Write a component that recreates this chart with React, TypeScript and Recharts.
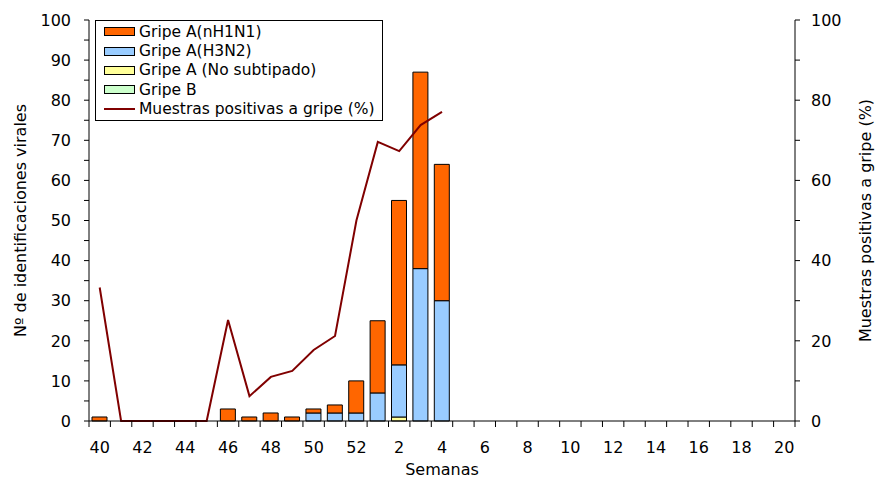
import { Bar, ComposedChart, Label, Line, XAxis, YAxis } from "recharts";

const weeks = [
  "40", "41", "42", "43", "44", "45", "46", "47", "48", "49", "50", "51", "52",
  "1", "2", "3", "4", "5", "6", "7", "8", "9", "10", "11", "12", "13", "14",
  "15", "16", "17", "18", "19", "20",
];
const h1n1 = [1, 0, 0, 0, 0, 0, 3, 1, 2, 1, 1, 2, 8, 18, 41, 49, 34, 0, 0, 0, 0, 0, 0, 0, 0, 0, 0, 0, 0, 0, 0, 0, 0];
const h3n2 = [0, 0, 0, 0, 0, 0, 0, 0, 0, 0, 2, 2, 2, 7, 13, 38, 30, 0, 0, 0, 0, 0, 0, 0, 0, 0, 0, 0, 0, 0, 0, 0, 0];
const noSubtipado = [0, 0, 0, 0, 0, 0, 0, 0, 0, 0, 0, 0, 0, 0, 1, 0, 0, 0, 0, 0, 0, 0, 0, 0, 0, 0, 0, 0, 0, 0, 0, 0, 0];
const gripeB = [0, 0, 0, 0, 0, 0, 0, 0, 0, 0, 0, 0, 0, 0, 0, 0, 0, 0, 0, 0, 0, 0, 0, 0, 0, 0, 0, 0, 0, 0, 0, 0, 0];
const positivas: (number | null)[] = [
  33.3, 0, 0, 0, 0, 0, 25.2, 6.2, 11, 12.5, 17.7, 21.2, 50, 69.6, 67.3, 73.8, 77.1,
  null, null, null, null, null, null, null, null, null, null, null, null, null, null, null, null,
];
const leftTicks = [0, 5, 10, 15, 20, 25, 30, 35, 40, 45, 50, 55, 60, 65, 70, 75, 80, 85, 90, 95, 100];
const rightTicks = [0, 10, 20, 30, 40, 50, 60, 70, 80, 90, 100];

const data = weeks.map((w, i) => ({
  week: w,
  b: gripeB[i],
  ns: noSubtipado[i],
  h3: h3n2[i],
  h1: h1n1[i],
  pct: positivas[i],
}));

const legendItems = [
  { name: "Gripe A(nH1N1)", color: "#FF6600", kind: "box" },
  { name: "Gripe A(H3N2)", color: "#99CCFF", kind: "box" },
  { name: "Gripe A (No subtipado)", color: "#FFFF99", kind: "box" },
  { name: "Gripe B", color: "#CCFFCC", kind: "box" },
  { name: "Muestras positivas a gripe (%)", color: "#800000", kind: "line" },
];

const W = 877;
const H = 480;
const LEFT_W = 89;
const RIGHT_W = 82;
const BAND = (W - LEFT_W - RIGHT_W) / weeks.length;
const FONT = "'DejaVu Sans', Verdana, sans-serif";

function WeekTick(props: any) {
  const { x, y, payload, index } = props;
  const axisY = y - 8;
  const n = Number(payload.value);
  const showLabel = n % 2 === 0;
  return (
    <g>
      <line x1={x - BAND / 2} x2={x - BAND / 2} y1={axisY} y2={axisY + 6} stroke="#000" />
      {index === weeks.length - 1 ? (
        <line x1={x + BAND / 2} x2={x + BAND / 2} y1={axisY} y2={axisY + 6} stroke="#000" />
      ) : null}
      {showLabel ? (
        <text x={x} y={axisY + 32} textAnchor="middle" fontSize={16} fill="#000">
          {payload.value}
        </text>
      ) : null}
    </g>
  );
}

function LeftTick(props: any) {
  const { x, y, payload } = props;
  if (payload.value % 10 !== 0) return null;
  return (
    <text x={x} y={y} dy="0.36em" textAnchor="end" fontSize={16} fill="#000">
      {payload.value}
    </text>
  );
}

function RightTick(props: any) {
  const { x, y, payload } = props;
  if (payload.value % 20 !== 0) return null;
  return (
    <text x={x} y={y} dy="0.36em" textAnchor="start" fontSize={16} fill="#000">
      {payload.value}
    </text>
  );
}

export default function App() {
  return (
    <div style={{ position: "absolute", left: 0, top: 0, width: W, height: H, background: "#fff", fontFamily: FONT }}>
      <ComposedChart width={W} height={H} data={data} margin={{ top: 20, right: 0, bottom: 0, left: 0 }}>
        <XAxis
          dataKey="week"
          interval={0}
          height={59}
          tickLine={false}
          tickSize={6}
          tickMargin={2}
          axisLine={{ stroke: "#000" }}
          tick={<WeekTick />}
        >
          <Label value="Semanas" position="insideBottom" offset={5} fontSize={16} fill="#000" />
        </XAxis>
        <YAxis
          yAxisId="left"
          width={LEFT_W}
          domain={[0, 100]}
          ticks={leftTicks}
          interval={0}
          tickSize={5}
          tickMargin={13}
          axisLine={{ stroke: "#000" }}
          tickLine={{ stroke: "#000" }}
          tick={<LeftTick />}
        >
          <Label
            value="Nº de identificaciones virales"
            angle={-90}
            position="center"
            dx={-24}
            fontSize={16}
            fill="#000"
          />
        </YAxis>
        <YAxis
          yAxisId="right"
          orientation="right"
          width={RIGHT_W}
          domain={[0, 100]}
          ticks={rightTicks}
          interval={0}
          tickSize={5}
          tickMargin={11}
          axisLine={{ stroke: "#000" }}
          tickLine={{ stroke: "#000" }}
          tick={<RightTick />}
        >
          <Label
            value="Muestras positivas a gripe (%)"
            angle={-90}
            position="center"
            dx={29}
            fontSize={16}
            fill="#000"
          />
        </YAxis>
        <Bar yAxisId="left" dataKey="b" stackId="s" fill="#CCFFCC" stroke="#000" strokeWidth={1} barSize={15} isAnimationActive={false} />
        <Bar yAxisId="left" dataKey="ns" stackId="s" fill="#FFFF99" stroke="#000" strokeWidth={1} barSize={15} isAnimationActive={false} />
        <Bar yAxisId="left" dataKey="h3" stackId="s" fill="#99CCFF" stroke="#000" strokeWidth={1} barSize={15} isAnimationActive={false} />
        <Bar yAxisId="left" dataKey="h1" stackId="s" fill="#FF6600" stroke="#000" strokeWidth={1} barSize={15} isAnimationActive={false} />
        <Line
          yAxisId="right"
          dataKey="pct"
          stroke="#800000"
          strokeWidth={2}
          dot={false}
          activeDot={false}
          connectNulls={false}
          isAnimationActive={false}
        />
      </ComposedChart>
      <div
        style={{
          position: "absolute",
          left: 95,
          top: 20,
          width: 286,
          height: 98,
          border: "1px solid #000",
          background: "#fff",
          fontSize: 15.5,
          padding: "1px 0 0 0",
          boxSizing: "content-box",
        }}
      >
        {legendItems.map((it) => (
          <div key={it.name} style={{ display: "flex", alignItems: "center", height: 19.4, paddingLeft: 8 }}>
            {it.kind === "box" ? (
              <span style={{ display: "inline-block", width: 31, height: 9, background: it.color, border: "1px solid #000", boxSizing: "border-box" }} />
            ) : (
              <span style={{ display: "inline-block", width: 31, height: 2, background: it.color }} />
            )}
            <span style={{ marginLeft: 4, whiteSpace: "nowrap" }}>{it.name}</span>
          </div>
        ))}
      </div>
    </div>
  );
}
